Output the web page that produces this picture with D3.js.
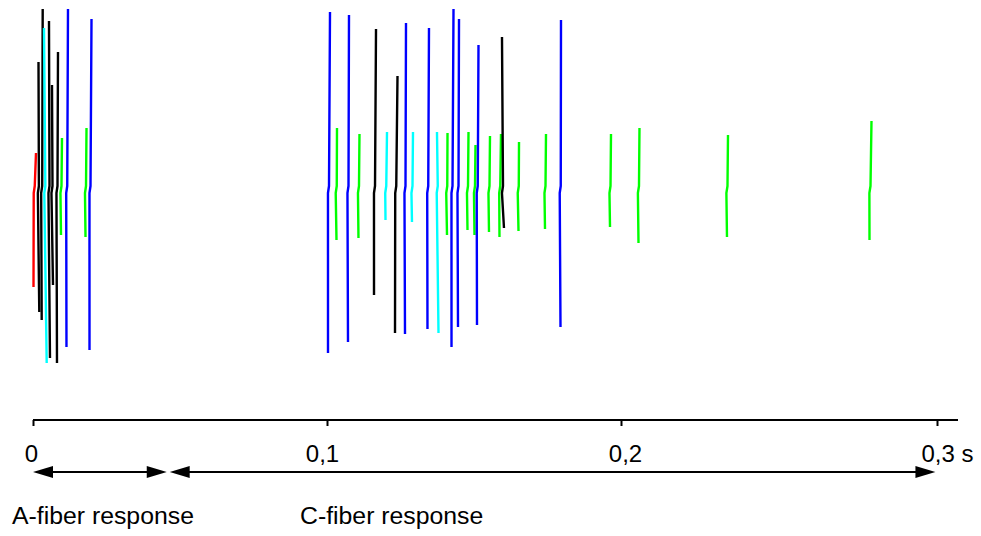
<!DOCTYPE html>
<html>
<head>
<meta charset="utf-8">
<script src="https://cdn.jsdelivr.net/npm/d3@7"></script>
<style>
  html, body { margin: 0; padding: 0; background: #fff; }
  svg { display: block; }
  text { font-family: "Liberation Sans", Arial, Helvetica, sans-serif; }
</style>
</head>
<body>
<svg id="chart" width="981" height="536"></svg>
<script>
// Time axis (ms) and its labels
const tickValues = [0, 100, 200, 300];
const tickLabels = ["0", "0,1", "0,2", "0,3 s"];

// Single-unit spikes: unit, time of peak and trough (ms), peak and trough amplitude
const spikeUnit = [
  "red", "black", "black", "cyan", "black", "black", "black", "green", "blue", "green", "blue",
  "blue", "green", "blue", "green", "black", "cyan", "black", "blue", "cyan", "blue", "cyan",
  "green", "blue", "blue", "green", "green", "blue", "green", "green", "black", "green", "green",
  "blue", "green", "green", "green", "green"
];
const spikePeakTime = [
  1.02, 1.87, 3.30, 3.74, 5.44, 6.46, 8.50, 9.86, 11.90, 18.20, 19.90,
  101.02, 103.40, 107.48, 111.05, 116.67, 120.41, 123.98, 126.87, 129.25, 134.69, 137.41,
  140.99, 143.03, 144.90, 148.13, 150.51, 151.53, 155.44, 159.18, 159.52, 165.31, 174.49,
  179.59, 196.60, 205.85, 233.86, 279.27
];
const spikeTroughTime = [
  0.17, 2.14, 2.96, 4.66, 5.78, 6.80, 8.16, 9.52, 11.39, 17.86, 19.22,
  100.34, 103.23, 107.14, 110.71, 115.99, 119.90, 123.13, 126.53, 128.91, 134.18, 137.93,
  140.82, 142.35, 144.56, 147.79, 150.17, 151.02, 155.10, 158.67, 160.20, 165.14, 174.15,
  179.42, 196.26, 205.54, 233.54, 278.64
];
const spikePeak = [
  35, 126, 179, 160, 167, 103, 136, 50, 179, 60, 169,
  176, 60, 173, 54, 159, 56, 112, 165, 56, 160, 56,
  55, 179, 169, 56, 43, 143, 52, 54, 151, 46, 54,
  168, 54, 60, 53, 67
];
const spikeTrough = [
  -99, -124, -132, -175, -170, -97, -175, -47, -159, -49, -162,
  -165, -52, -154, -50, -107, -32, -145, -146, -34, -141, -145,
  -47, -159, -139, -42, -47, -137, -44, -49, -40, -43, -41,
  -139, -39, -55, -49, -52
];

// Response windows (ms)
const responseNames = ["A-fiber response", "C-fiber response"];
const responseStart = [0, 46.5];
const responseEnd = [45.5, 299.5];

const unitColors = {
  red: "#ff0000", black: "#000000", cyan: "#00ffff", blue: "#0000ff", green: "#00ff00"
};

const svg = d3.select("#chart");

const x = d3.scaleLinear().domain(tickValues).range([33, 327, 621, 937]);
const y = d3.scaleLinear().domain([-180, 180]).range([368, 8]);
const color = d3.scaleOrdinal()
  .domain(Object.keys(unitColors))
  .range(Object.values(unitColors));

// Spike traces
const spikes = spikeUnit.map((u, i) => ({
  unit: u,
  tp: spikePeakTime[i],
  tt: spikeTroughTime[i],
  peak: spikePeak[i],
  trough: spikeTrough[i]
}));

const line = d3.line().x(d => x(d[0])).y(d => y(d[1]));

svg.append("g")
  .selectAll("path")
  .data(spikes)
  .join("path")
  .attr("d", d => {
    const tm = (d.tp + d.tt) / 2;
    return line([[d.tp, d.peak], [tm, 2], [tm - 0.35, -5], [d.tt, d.trough]]);
  })
  .attr("fill", "none")
  .attr("stroke", d => color(d.unit))
  .attr("stroke-width", 2.4)
  .attr("stroke-linejoin", "round");

// Time axis
const axisY = 420;
const axis = d3.axisBottom(x)
  .tickValues(tickValues)
  .tickSize(6)
  .tickSizeOuter(0)
  .tickPadding(19)
  .tickFormat((d, i) => tickLabels[i]);

const gAxis = svg.append("g").attr("transform", `translate(0,${axisY})`).call(axis);
gAxis.select(".domain").remove();
gAxis.selectAll(".tick line").attr("stroke", "#000").attr("stroke-width", 2);
const labelNudge = [-2, -5, 4, 10];
gAxis.selectAll(".tick text")
  .attr("fill", "#000")
  .attr("font-size", 24)
  .attr("font-family", "Liberation Sans, Arial, sans-serif")
  .attr("dx", (d, i) => labelNudge[i]);

svg.append("line")
  .attr("x1", x(0)).attr("x2", x(300) + 21)
  .attr("y1", axisY).attr("y2", axisY)
  .attr("stroke", "#000").attr("stroke-width", 2);

// Response windows: double-headed arrows with captions
const arrowY = 472;
const headLen = 20, headHalf = 6;
const gResp = svg.append("g");
responseNames.forEach((name, i) => {
  const x0 = x(responseStart[i]);
  const x1 = x(responseEnd[i]);
  gResp.append("line")
    .attr("x1", x0 + headLen - 2).attr("x2", x1 - headLen + 2)
    .attr("y1", arrowY).attr("y2", arrowY)
    .attr("stroke", "#000").attr("stroke-width", 2);
  gResp.append("path")
    .attr("d", `M${x0},${arrowY}L${x0 + headLen},${arrowY - headHalf}L${x0 + headLen},${arrowY + headHalf}Z`)
    .attr("fill", "#000");
  gResp.append("path")
    .attr("d", `M${x1},${arrowY}L${x1 - headLen},${arrowY - headHalf}L${x1 - headLen},${arrowY + headHalf}Z`)
    .attr("fill", "#000");
});

svg.append("text")
  .attr("x", 12).attr("y", 524)
  .attr("font-size", 24.8).attr("fill", "#000")
  .text(responseNames[0]);
svg.append("text")
  .attr("x", 300).attr("y", 524)
  .attr("font-size", 24.8).attr("fill", "#000")
  .text(responseNames[1]);
</script>
</body>
</html>
